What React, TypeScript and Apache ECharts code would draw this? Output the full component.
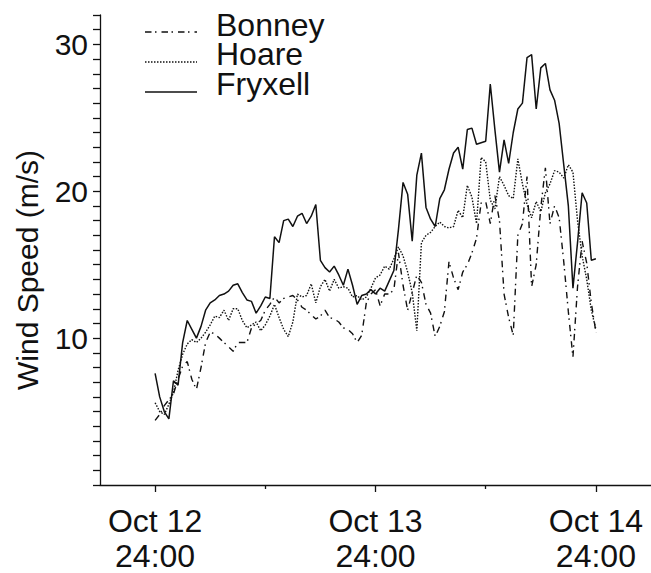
import React, { useEffect, useRef } from 'react';
import * as echarts from 'echarts';

// Wind speed (m/s), every 30 minutes from Oct 12 24:00 to Oct 14 24:00
const seriesNames = ['Bonney', 'Hoare', 'Fryxell'];

const bonney = [
  4.4, 4.8, 5.4, 5.8, 6.2, 7.2, 8.1, 8.4, 7.2, 6.5,
  8.0, 9.7, 10.4, 10.3, 10.0, 9.7, 9.4, 9.1, 9.7, 9.7,
  9.7, 10.7, 11.0, 11.2, 11.9, 12.3, 12.8, 12.4, 12.7, 12.8,
  12.9, 12.6, 12.1, 11.9, 11.6, 11.3, 11.5, 11.9, 11.4, 11.3,
  11.1, 10.7, 10.6, 10.3, 9.7, 10.2, 12.4, 13.0, 13.3, 12.2,
  13.0, 13.0, 13.3, 15.8, 13.6, 11.9, 13.1, 14.3, 13.8, 12.3,
  11.7, 10.1, 10.8, 11.8, 15.2, 14.1, 13.3, 14.5, 15.0, 15.8,
  16.8, 19.2, 19.3, 17.8, 19.7, 18.0, 13.0, 11.4, 10.2, 17.0,
  17.8, 21.0, 13.5, 15.0, 18.9, 21.6, 17.8, 19.0, 18.2, 15.2,
  11.8, 8.7, 13.5, 16.6, 15.1, 12.4, 10.4,
];

const hoare = [
  5.6, 5.0, 4.8, 5.5, 6.3, 7.8, 8.9, 9.6, 9.9, 9.7,
  10.0, 10.4, 10.9, 11.5, 11.4, 11.9, 11.2, 12.0, 12.0, 11.2,
  10.7, 10.9, 11.1, 10.5, 10.9, 11.5, 12.3, 11.4, 10.6, 10.1,
  11.1, 13.0, 12.8, 12.9, 13.7, 12.4, 13.5, 14.0, 13.2, 14.0,
  13.4, 13.5, 13.4, 12.8, 12.9, 12.6, 12.8, 13.4, 14.1, 14.3,
  14.9, 14.7, 15.4, 16.2, 15.6, 14.5, 13.1, 10.5, 16.5, 17.0,
  17.2, 17.6, 17.9, 17.6, 17.5, 17.6, 18.7, 18.2, 20.4, 19.6,
  17.8, 22.3, 22.0, 19.4, 18.8, 21.0, 20.4, 19.7, 19.5, 22.2,
  20.5, 19.1, 18.2, 19.3, 18.6, 19.9, 20.5, 21.4, 21.3, 20.9,
  21.8, 21.3, 18.0, 15.6, 14.0, 11.9, 10.6,
];

const fryxell = [
  7.6, 6.0, 5.0, 4.5, 7.1, 6.8, 9.7, 11.2, 10.6, 10.0,
  10.8, 11.9, 12.4, 12.6, 12.9, 13.0, 13.2, 13.6, 13.7, 13.1,
  12.6, 12.5, 11.7, 12.2, 12.8, 12.7, 16.9, 16.5, 18.0, 18.1,
  17.6, 18.3, 18.5, 17.8, 18.3, 19.1, 15.3, 14.8, 14.5, 14.9,
  14.3, 13.6, 14.7, 13.6, 12.3, 12.9, 13.0, 13.3, 13.0, 13.4,
  13.2, 13.9, 14.6, 17.4, 20.6, 19.8, 16.6, 21.1, 22.6, 18.9,
  18.1, 17.6, 19.5, 20.1, 21.5, 22.6, 23.0, 21.5, 24.2, 24.3,
  23.2, 23.3, 23.4, 27.3, 24.2, 21.3, 23.5, 21.9, 24.0, 25.6,
  26.0, 29.1, 29.3, 25.6, 28.4, 28.7, 26.9, 26.2, 24.6, 21.8,
  19.0, 13.4, 16.5, 19.9, 19.2, 15.3, 15.4,
];

const stepHours = 0.5;
const xTickValues = [0, 24, 48];
const xTickLabels = ['Oct 12\n24:00', 'Oct 13\n24:00', 'Oct 14\n24:00'];
const xMinorTickValues = [12, 36];
const yLabelValues = [10, 20, 30];
const yAxisTitle = 'Wind Speed (m/s)';

export default function App() {
  const ref = useRef<HTMLDivElement>(null);

  useEffect(() => {
    const chart = echarts.init(ref.current as HTMLDivElement, null, { renderer: 'svg' });
    const font = '"Liberation Sans", Arial, Helvetica, sans-serif';
    const toPairs = (arr: number[]) => arr.map((v, i) => [i * stepHours, v]);
    const allSeries = [bonney, hoare, fryxell];
    const dashes: any[] = [[6.5, 3.5, 1.5, 5], [1.5, 1.5], 'solid'];
    const widths = [1.4, 1.4, 1.5];
    const ink = '#111';

    const legendLineY = [32, 62, 92];
    const legendTextY = [25, 54, 84];

    const graphics: any[] = [];
    seriesNames.forEach((name, k) => {
      graphics.push({
        type: 'line',
        shape: { x1: 145, y1: legendLineY[k], x2: 197, y2: legendLineY[k] },
        style: {
          stroke: ink,
          lineWidth: widths[k],
          lineDash: Array.isArray(dashes[k]) ? dashes[k] : null,
        },
      });
      graphics.push({
        type: 'text',
        x: 216,
        y: legendTextY[k],
        style: {
          text: name,
          fill: ink,
          fontSize: 32,
          fontFamily: font,
          lineHeight: 24,
          align: 'left',
          verticalAlign: 'middle',
        },
      });
    });
    graphics.push({
      type: 'text',
      x: 27,
      y: 270,
      rotation: Math.PI / 2,
      style: {
        text: yAxisTitle,
        fill: ink,
        fontSize: 30,
        fontFamily: font,
        align: 'center',
        verticalAlign: 'middle',
      },
    });

    const axisLineStyle = { color: ink, width: 1.3 };

    chart.setOption({
      animation: false,
      backgroundColor: '#ffffff',
      grid: { left: 100, top: 15, width: 554, height: 481 },
      xAxis: [
        {
          type: 'value',
          min: -6,
          max: 54,
          axisLine: { show: true, onZero: false, lineStyle: axisLineStyle },
          axisTick: {
            show: true,
            length: 7,
            customValues: xTickValues,
            lineStyle: axisLineStyle,
          },
          axisLabel: {
            customValues: xTickValues,
            formatter: (v: number) => xTickLabels[xTickValues.indexOf(v)] ?? '',
            color: ink,
            fontSize: 32,
            fontFamily: font,
            lineHeight: 35,
            margin: 18,
            align: 'center',
          },
          splitLine: { show: false },
        },
        {
          type: 'value',
          min: -6,
          max: 54,
          position: 'bottom',
          axisLine: { show: false, onZero: false },
          axisTick: {
            show: true,
            length: 4,
            customValues: xMinorTickValues,
            lineStyle: axisLineStyle,
          },
          axisLabel: { show: false },
          splitLine: { show: false },
        },
      ],
      yAxis: {
        type: 'value',
        min: 0,
        max: 32,
        interval: 1,
        axisLine: { show: true, onZero: false, lineStyle: axisLineStyle },
        axisTick: { show: true, length: 7, lineStyle: axisLineStyle },
        axisLabel: {
          formatter: (v: number) => (yLabelValues.indexOf(v) >= 0 ? String(v) : ''),
          color: ink,
          fontSize: 30,
          fontFamily: font,
          margin: 12,
        },
        splitLine: { show: false },
      },
      graphic: graphics,
      series: seriesNames.map((name, k) => ({
        name,
        type: 'line',
        data: toPairs(allSeries[k]),
        xAxisIndex: 0,
        symbol: 'none',
        showSymbol: false,
        z: 3 - k,
        lineStyle: { color: ink, width: widths[k], type: dashes[k] },
      })),
    });

    return () => chart.dispose();
  }, []);

  return (
    <div
      ref={ref}
      style={{ position: 'absolute', left: 0, top: 0, width: 651, height: 573 }}
    />
  );
}
